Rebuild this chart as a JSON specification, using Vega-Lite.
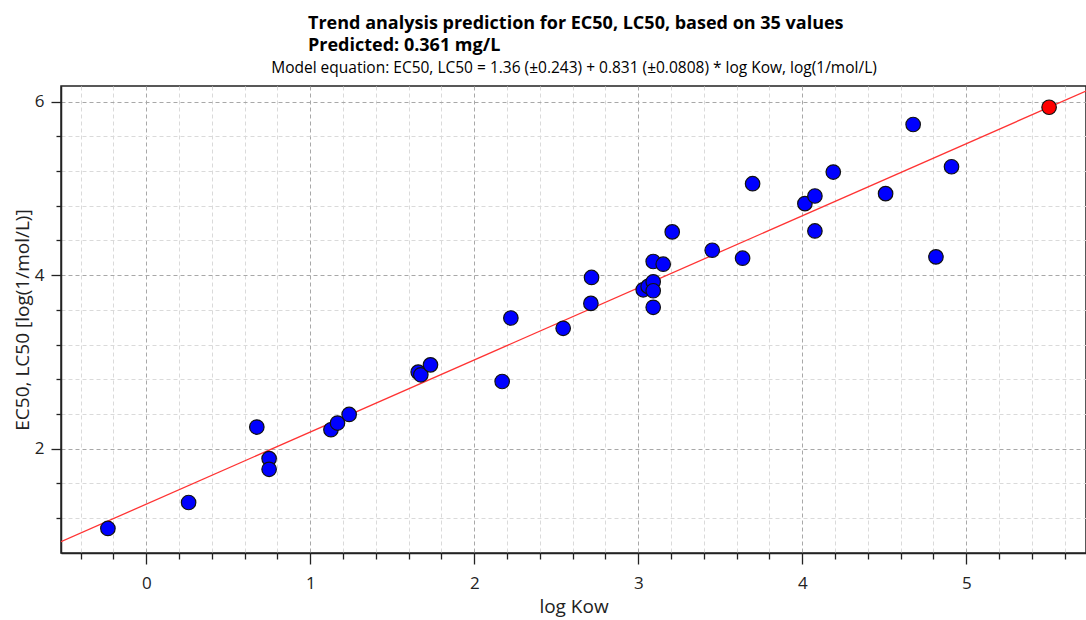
{
  "$schema": "https://vega.github.io/schema/vega-lite/v6.json",
  "width": 1025,
  "height": 467,
  "autosize": {"type": "none"},
  "padding": {"left": 61, "top": 86, "right": 0, "bottom": 67},
  "background": "white",
  "config": {
    "view": {"stroke": "#222", "strokeWidth": 1.5},
    "font": "Open Sans"
  },
  "title": {
    "text": ["Trend analysis prediction for EC50, LC50, based on 35 values", "Predicted: 0.361 mg/L"],
    "anchor": "start",
    "align": "left",
    "frame": "group",
    "dx": 247,
    "offset": 5,
    "font": "Open Sans",
    "fontSize": 18,
    "fontWeight": "bold",
    "lineHeight": 22,
    "color": "#000"
  },
  "datasets": {
    "points": [
      {"logKow": -0.234, "value": 1.08, "kind": "training"},
      {"logKow": 0.258, "value": 1.379, "kind": "training"},
      {"logKow": 0.674, "value": 2.249, "kind": "training"},
      {"logKow": 0.749, "value": 1.885, "kind": "training"},
      {"logKow": 0.749, "value": 1.762, "kind": "training"},
      {"logKow": 1.126, "value": 2.218, "kind": "training"},
      {"logKow": 1.166, "value": 2.295, "kind": "training"},
      {"logKow": 1.237, "value": 2.394, "kind": "training"},
      {"logKow": 1.658, "value": 2.882, "kind": "training"},
      {"logKow": 1.674, "value": 2.851, "kind": "training"},
      {"logKow": 1.733, "value": 2.966, "kind": "training"},
      {"logKow": 2.17, "value": 2.774, "kind": "training"},
      {"logKow": 2.223, "value": 3.506, "kind": "training"},
      {"logKow": 2.542, "value": 3.387, "kind": "training"},
      {"logKow": 2.711, "value": 3.674, "kind": "training"},
      {"logKow": 2.715, "value": 3.973, "kind": "training"},
      {"logKow": 3.03, "value": 3.831, "kind": "training"},
      {"logKow": 3.06, "value": 3.87, "kind": "training"},
      {"logKow": 3.091, "value": 3.923, "kind": "training"},
      {"logKow": 3.091, "value": 3.82, "kind": "training"},
      {"logKow": 3.091, "value": 3.629, "kind": "training"},
      {"logKow": 3.091, "value": 4.157, "kind": "training"},
      {"logKow": 3.152, "value": 4.126, "kind": "training"},
      {"logKow": 3.207, "value": 4.498, "kind": "training"},
      {"logKow": 3.451, "value": 4.287, "kind": "training"},
      {"logKow": 3.636, "value": 4.195, "kind": "training"},
      {"logKow": 3.697, "value": 5.054, "kind": "training"},
      {"logKow": 4.016, "value": 4.824, "kind": "training"},
      {"logKow": 4.077, "value": 4.912, "kind": "training"},
      {"logKow": 4.077, "value": 4.509, "kind": "training"},
      {"logKow": 4.189, "value": 5.188, "kind": "training"},
      {"logKow": 4.508, "value": 4.939, "kind": "training"},
      {"logKow": 4.676, "value": 5.736, "kind": "training"},
      {"logKow": 4.815, "value": 4.21, "kind": "training"},
      {"logKow": 4.91, "value": 5.249, "kind": "training"},
      {"logKow": 5.505, "value": 5.935, "kind": "prediction"}
    ],
    "fit": [
      {"logKow": -0.52, "value": 0.928},
      {"logKow": 5.73, "value": 6.122}
    ]
  },
  "layer": [
    {
      "data": {"name": "fit"},
      "mark": {"type": "line", "color": "#ff3333", "strokeWidth": 1.3, "clip": true},
      "encoding": {
        "x": {
          "field": "logKow", "type": "quantitative",
          "scale": {"domain": [-0.52, 5.73], "nice": false, "zero": false},
          "axis": {
            "orient": "top",
            "title": "Model equation: EC50, LC50 = 1.36 (±0.243) + 0.831 (±0.0808) * log Kow, log(1/mol/L)",
            "labels": false, "ticks": false, "domain": false, "grid": false,
            "titleFont": "Open Sans", "titleFontSize": 15.5, "titleFontWeight": "normal",
            "titleColor": "#000", "titlePadding": 11
          }
        },
        "y": {
          "field": "value", "type": "quantitative",
          "scale": {"domain": [0.797, 6.18], "nice": false, "zero": false}
        }
      }
    },
    {
      "data": {"name": "points"},
      "mark": {"type": "circle", "size": 210, "opacity": 1, "stroke": "#111", "strokeWidth": 1.2},
      "encoding": {
        "x": {
          "field": "logKow", "type": "quantitative",
          "scale": {"domain": [-0.52, 5.73], "nice": false, "zero": false},
          "axis": {
            "orient": "bottom",
            "title": "log Kow",
            "tickCount": 100,
            "values": [-0.4, -0.2, 0, 0.2, 0.4, 0.6, 0.8, 1, 1.2, 1.4, 1.6, 1.8, 2, 2.2, 2.4, 2.6, 2.8, 3, 3.2, 3.4, 3.6, 3.8, 4, 4.2, 4.4, 4.6, 4.8, 5, 5.2, 5.4, 5.6],
            "labelExpr": "abs(datum.value - round(datum.value)) < 0.001 ? format(datum.value, 'd') : ''",
            "labelFlush": false, "labelOverlap": false,
            "labelFont": "Open Sans", "labelFontSize": 17, "labelColor": "#222", "labelPadding": 11,
            "tickColor": "#222", "tickWidth": 1.3,
            "tickSize": {"condition": {"test": "abs(datum.value - round(datum.value)) < 0.001", "value": 11}, "value": 6},
            "domainColor": "#222", "domainWidth": 1.5,
            "grid": true,
            "gridColor": {"condition": {"test": "abs(datum.value - round(datum.value)) < 0.001", "value": "#a8a8a8"}, "value": "#dadada"},
            "gridDash": [4, 3],
            "gridWidth": 1,
            "titleFont": "Open Sans", "titleFontSize": 19, "titleFontWeight": "normal", "titleColor": "#222", "titlePadding": 6
          }
        },
        "y": {
          "field": "value", "type": "quantitative",
          "scale": {"domain": [0.797, 6.18], "nice": false, "zero": false},
          "axis": {
            "title": "EC50, LC50 [log(1/mol/L)]",
            "tickCount": 100,
            "values": [1.2, 1.6, 2, 2.4, 2.8, 3.2, 3.6, 4, 4.4, 4.8, 5.2, 5.6, 6],
            "labelExpr": "abs(datum.value / 2 - round(datum.value / 2)) < 0.001 ? format(datum.value, 'd') : ''",
            "labelFlush": false, "labelOverlap": false,
            "labelFont": "Open Sans", "labelFontSize": 17, "labelColor": "#222", "labelPadding": 7,
            "tickColor": "#222", "tickWidth": 1.3,
            "tickSize": {"condition": {"test": "abs(datum.value / 2 - round(datum.value / 2)) < 0.001", "value": 10}, "value": 5},
            "domainColor": "#222", "domainWidth": 1.5,
            "grid": true,
            "gridColor": {"condition": {"test": "abs(datum.value / 2 - round(datum.value / 2)) < 0.001", "value": "#a8a8a8"}, "value": "#dadada"},
            "gridDash": [4, 3],
            "gridWidth": 1,
            "titleFont": "Open Sans", "titleFontSize": 19, "titleFontWeight": "normal", "titleColor": "#222", "titlePadding": 2
          }
        },
        "color": {
          "field": "kind", "type": "nominal",
          "scale": {"domain": ["training", "prediction"], "range": ["#0000ff", "#ff0000"]},
          "legend": null
        }
      }
    }
  ],
  "resolve": {"axis": {"x": "independent"}}
}
